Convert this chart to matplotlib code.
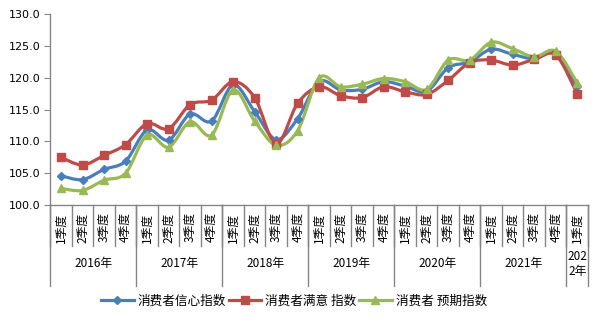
import numpy as np
import matplotlib
matplotlib.use("Agg")
import matplotlib.pyplot as plt
from matplotlib.path import Path
from matplotlib.patches import PathPatch
from matplotlib.lines import Line2D
import matplotlib.transforms as mtransforms

plt.rcParams['font.family'] = ['Noto Sans CJK SC', 'DejaVu Sans']

# data
quarters = ['1季度', '2季度', '3季度', '4季度'] * 6 + ['1季度']
years = ['2016年', '2017年', '2018年', '2019年', '2020年', '2021年', '202\n2年']
year_sizes = [4, 4, 4, 4, 4, 4, 1]

confidence = [104.6, 104.0, 105.6, 106.9, 111.8, 110.2, 114.3, 113.2,
              118.9, 114.7, 110.3, 113.6, 119.4, 118.1, 118.2, 119.4,
              118.7, 117.9, 121.6, 122.5, 124.5, 123.7, 123.0, 123.8, 118.7]
satisfaction = [107.5, 106.3, 107.8, 109.5, 112.8, 112.0, 115.8, 116.5,
                119.4, 116.9, 109.6, 116.0, 118.6, 117.2, 116.9, 118.6,
                117.8, 117.4, 119.6, 122.4, 122.8, 122.0, 122.9, 123.6, 117.5]
expectation = [102.6, 102.3, 103.9, 105.0, 111.0, 109.1, 113.1, 111.0,
               118.1, 113.2, 109.4, 111.7, 120.0, 118.6, 119.0, 119.9,
               119.4, 118.2, 122.8, 122.8, 125.6, 124.6, 123.3, 124.2, 119.2]

series = [
    ('消费者信心指数', confidence, '#4A7EBB', 'D', 4.5),
    ('消费者满意 指数', satisfaction, '#BE4B48', 's', 6),
    ('消费者 预期指数', expectation, '#98B954', '^', 6),
]


def smooth_path(x, y):
    # Catmull-Rom curve drawn as cubic Bezier segments
    pts = np.column_stack([x, y])
    verts = [pts[0]]
    codes = [Path.MOVETO]
    n = len(pts)
    for i in range(n - 1):
        p0 = pts[max(i - 1, 0)]
        p1 = pts[i]
        p2 = pts[i + 1]
        p3 = pts[min(i + 2, n - 1)]
        c1 = p1 + (p2 - p0) / 6.0
        c2 = p2 - (p3 - p1) / 6.0
        verts += [c1, c2, p2]
        codes += [Path.CURVE4] * 3
    return Path(verts, codes)


fig = plt.figure(figsize=(5.98, 3.24), dpi=100)
ax = fig.add_axes([50.3 / 598, 1 - 205 / 324, (588 - 50.3) / 598, (205 - 14.3) / 324])

x = np.arange(len(quarters)) + 0.5
handles = []
for name, vals, col, mk, ms in series:
    patch = PathPatch(smooth_path(x, vals), facecolor='none', edgecolor=col,
                      lw=2.3, capstyle='round', joinstyle='round')
    ax.add_patch(patch)
    ax.plot(x, vals, linestyle='none', marker=mk, markersize=ms, color=col,
            markeredgecolor=col)
    handles.append(Line2D([], [], color=col, lw=2.3, marker=mk, markersize=ms))

ax.set_xlim(0, len(quarters))
ax.set_ylim(100, 130)
ax.set_yticks(np.arange(100, 131, 5))
ax.set_yticklabels(['%.1f' % v for v in np.arange(100, 131, 5)], fontsize=8,
                   family='DejaVu Sans')
ax.set_xticks([])
ax.tick_params(axis='y', length=4, color='#868686', pad=3)
for s in ['top', 'right']:
    ax.spines[s].set_visible(False)
for s in ['left', 'bottom']:
    ax.spines[s].set_color('#868686')
    ax.spines[s].set_linewidth(1)

# multi-level category axis
trans = mtransforms.blended_transform_factory(ax.transData, fig.transFigure)
y_axis = 1 - 205 / 324
y_q = 1 - 245.7 / 324
y_y = 1 - 285.7 / 324
for i in range(len(quarters) + 1):
    ax.plot([i, i], [y_axis, y_q], transform=trans, color='#868686', lw=1,
            clip_on=False)
    if i < len(quarters):
        ax.text(i + 0.5, 1 - 227.5 / 324, quarters[i], transform=trans,
                rotation=90, ha='center', va='center', fontsize=8.5)

edges = np.concatenate([[0], np.cumsum(year_sizes)])
for e in edges:
    ax.plot([e, e], [y_axis, y_y], transform=trans, color='#868686', lw=1,
            clip_on=False)
for j, yr in enumerate(years):
    ax.text((edges[j] + edges[j + 1]) / 2, 1 - 264 / 324, yr, transform=trans,
            ha='center', va='center', fontsize=8.5, linespacing=1.3)

fig.legend(handles, [s[0] for s in series], loc='center',
           bbox_to_anchor=(294 / 598, 1 - 301 / 324), ncol=3, frameon=False,
           fontsize=9.1, handlelength=2.6, handletextpad=0.3, columnspacing=0.2)

fig.savefig('out.png', dpi=100)
